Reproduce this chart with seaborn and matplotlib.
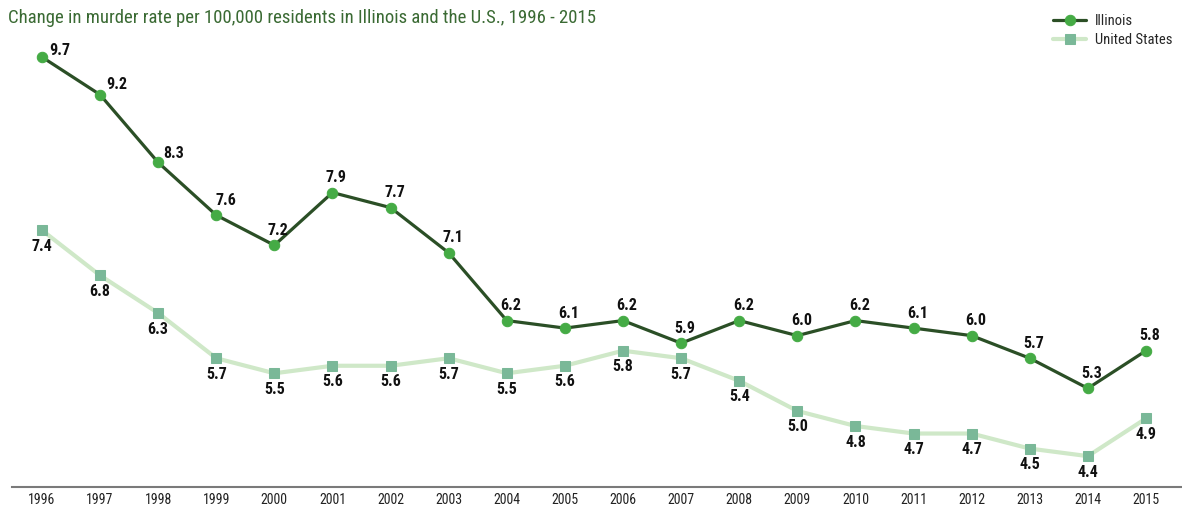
import matplotlib
matplotlib.use('Agg')
import matplotlib.pyplot as plt
import seaborn as sns
import pandas as pd

# chart values
years = list(range(1996, 2016))
illinois = [9.7, 9.2, 8.3, 7.6, 7.2, 7.9, 7.7, 7.1, 6.2, 6.1, 6.2, 5.9, 6.2, 6.0, 6.2, 6.1, 6.0, 5.7, 5.3, 5.8]
united_states = [7.4, 6.8, 6.3, 5.7, 5.5, 5.6, 5.6, 5.7, 5.5, 5.6, 5.8, 5.7, 5.4, 5.0, 4.8, 4.7, 4.7, 4.5, 4.4, 4.9]
series_names = ['Illinois', 'United States']
title = 'Change in murder rate per 100,000 residents in Illinois and the U.S., 1996 - 2015'

sns.set_style('white')
plt.rcParams['font.family'] = ['Roboto Condensed', 'Liberation Sans Narrow', 'DejaVu Sans']
plt.rcParams['font.stretch'] = 'condensed'

df = pd.DataFrame({'Year': years, 'Illinois': illinois, 'United States': united_states})

fig = plt.figure(figsize=(11.82, 5.05), dpi=100)
ax = fig.add_axes([12 / 1182, 18 / 505, 1 - 12 / 1182, 487 / 505])

sns.lineplot(data=df, x='Year', y='United States', ax=ax, color='#cfe8c8', linewidth=3,
             marker='s', markersize=6.5, markerfacecolor='#7ab898', markeredgecolor='#7ab898',
             label='United States', zorder=2)
sns.lineplot(data=df, x='Year', y='Illinois', ax=ax, color='#2b4f26', linewidth=2.3,
             marker='o', markersize=7.5, markerfacecolor='#45ab45', markeredgecolor='#45ab45',
             label='Illinois', zorder=3)

# value labels
first_offsets = {0: (18, 7), 1: (17, 10), 2: (15, 9), 3: (10, 15)}
for i, (yr, v) in enumerate(zip(years, illinois)):
    dx, dy = first_offsets.get(i, (4, 15))
    ax.annotate(f'{v:.1f}', (yr, v), xytext=(dx, dy), textcoords='offset pixels',
                ha='center', va='center', fontsize=11.5, fontweight='bold', color='#111111')
for yr, v in zip(years, united_states):
    ax.annotate(f'{v:.1f}', (yr, v), xytext=(0, -16), textcoords='offset pixels',
                ha='center', va='center', fontsize=11.5, fontweight='bold', color='#111111')

ax.set_xlim(1995.485, 2015.62)
ax.set_ylim(3.99, 10.457)
ax.set_xticks(years)
ax.set_xticklabels([str(y) for y in years], fontsize=10)
ax.tick_params(axis='x', length=0, pad=4, colors='#222222')
ax.set_yticks([])
ax.set_xlabel('')
ax.set_ylabel('')
for side in ['top', 'right', 'left']:
    ax.spines[side].set_visible(False)
ax.spines['bottom'].set_color('#7a7a7a')
ax.spines['bottom'].set_linewidth(1.5)

handles, labels = ax.get_legend_handles_labels()
order = [labels.index(n) for n in series_names]
ax.legend([handles[i] for i in order], [labels[i] for i in order], loc='upper right',
          bbox_to_anchor=(1.0, 0.99), frameon=False, fontsize=10.5, handlelength=2.3,
          handletextpad=0.6, labelspacing=0.3, borderaxespad=0.25)

fig.text(8 / 1182, 1 - 18 / 505, title, ha='left', va='center', fontsize=13.5, color='#3a6a33')

fig.savefig('out.png', dpi=100)
